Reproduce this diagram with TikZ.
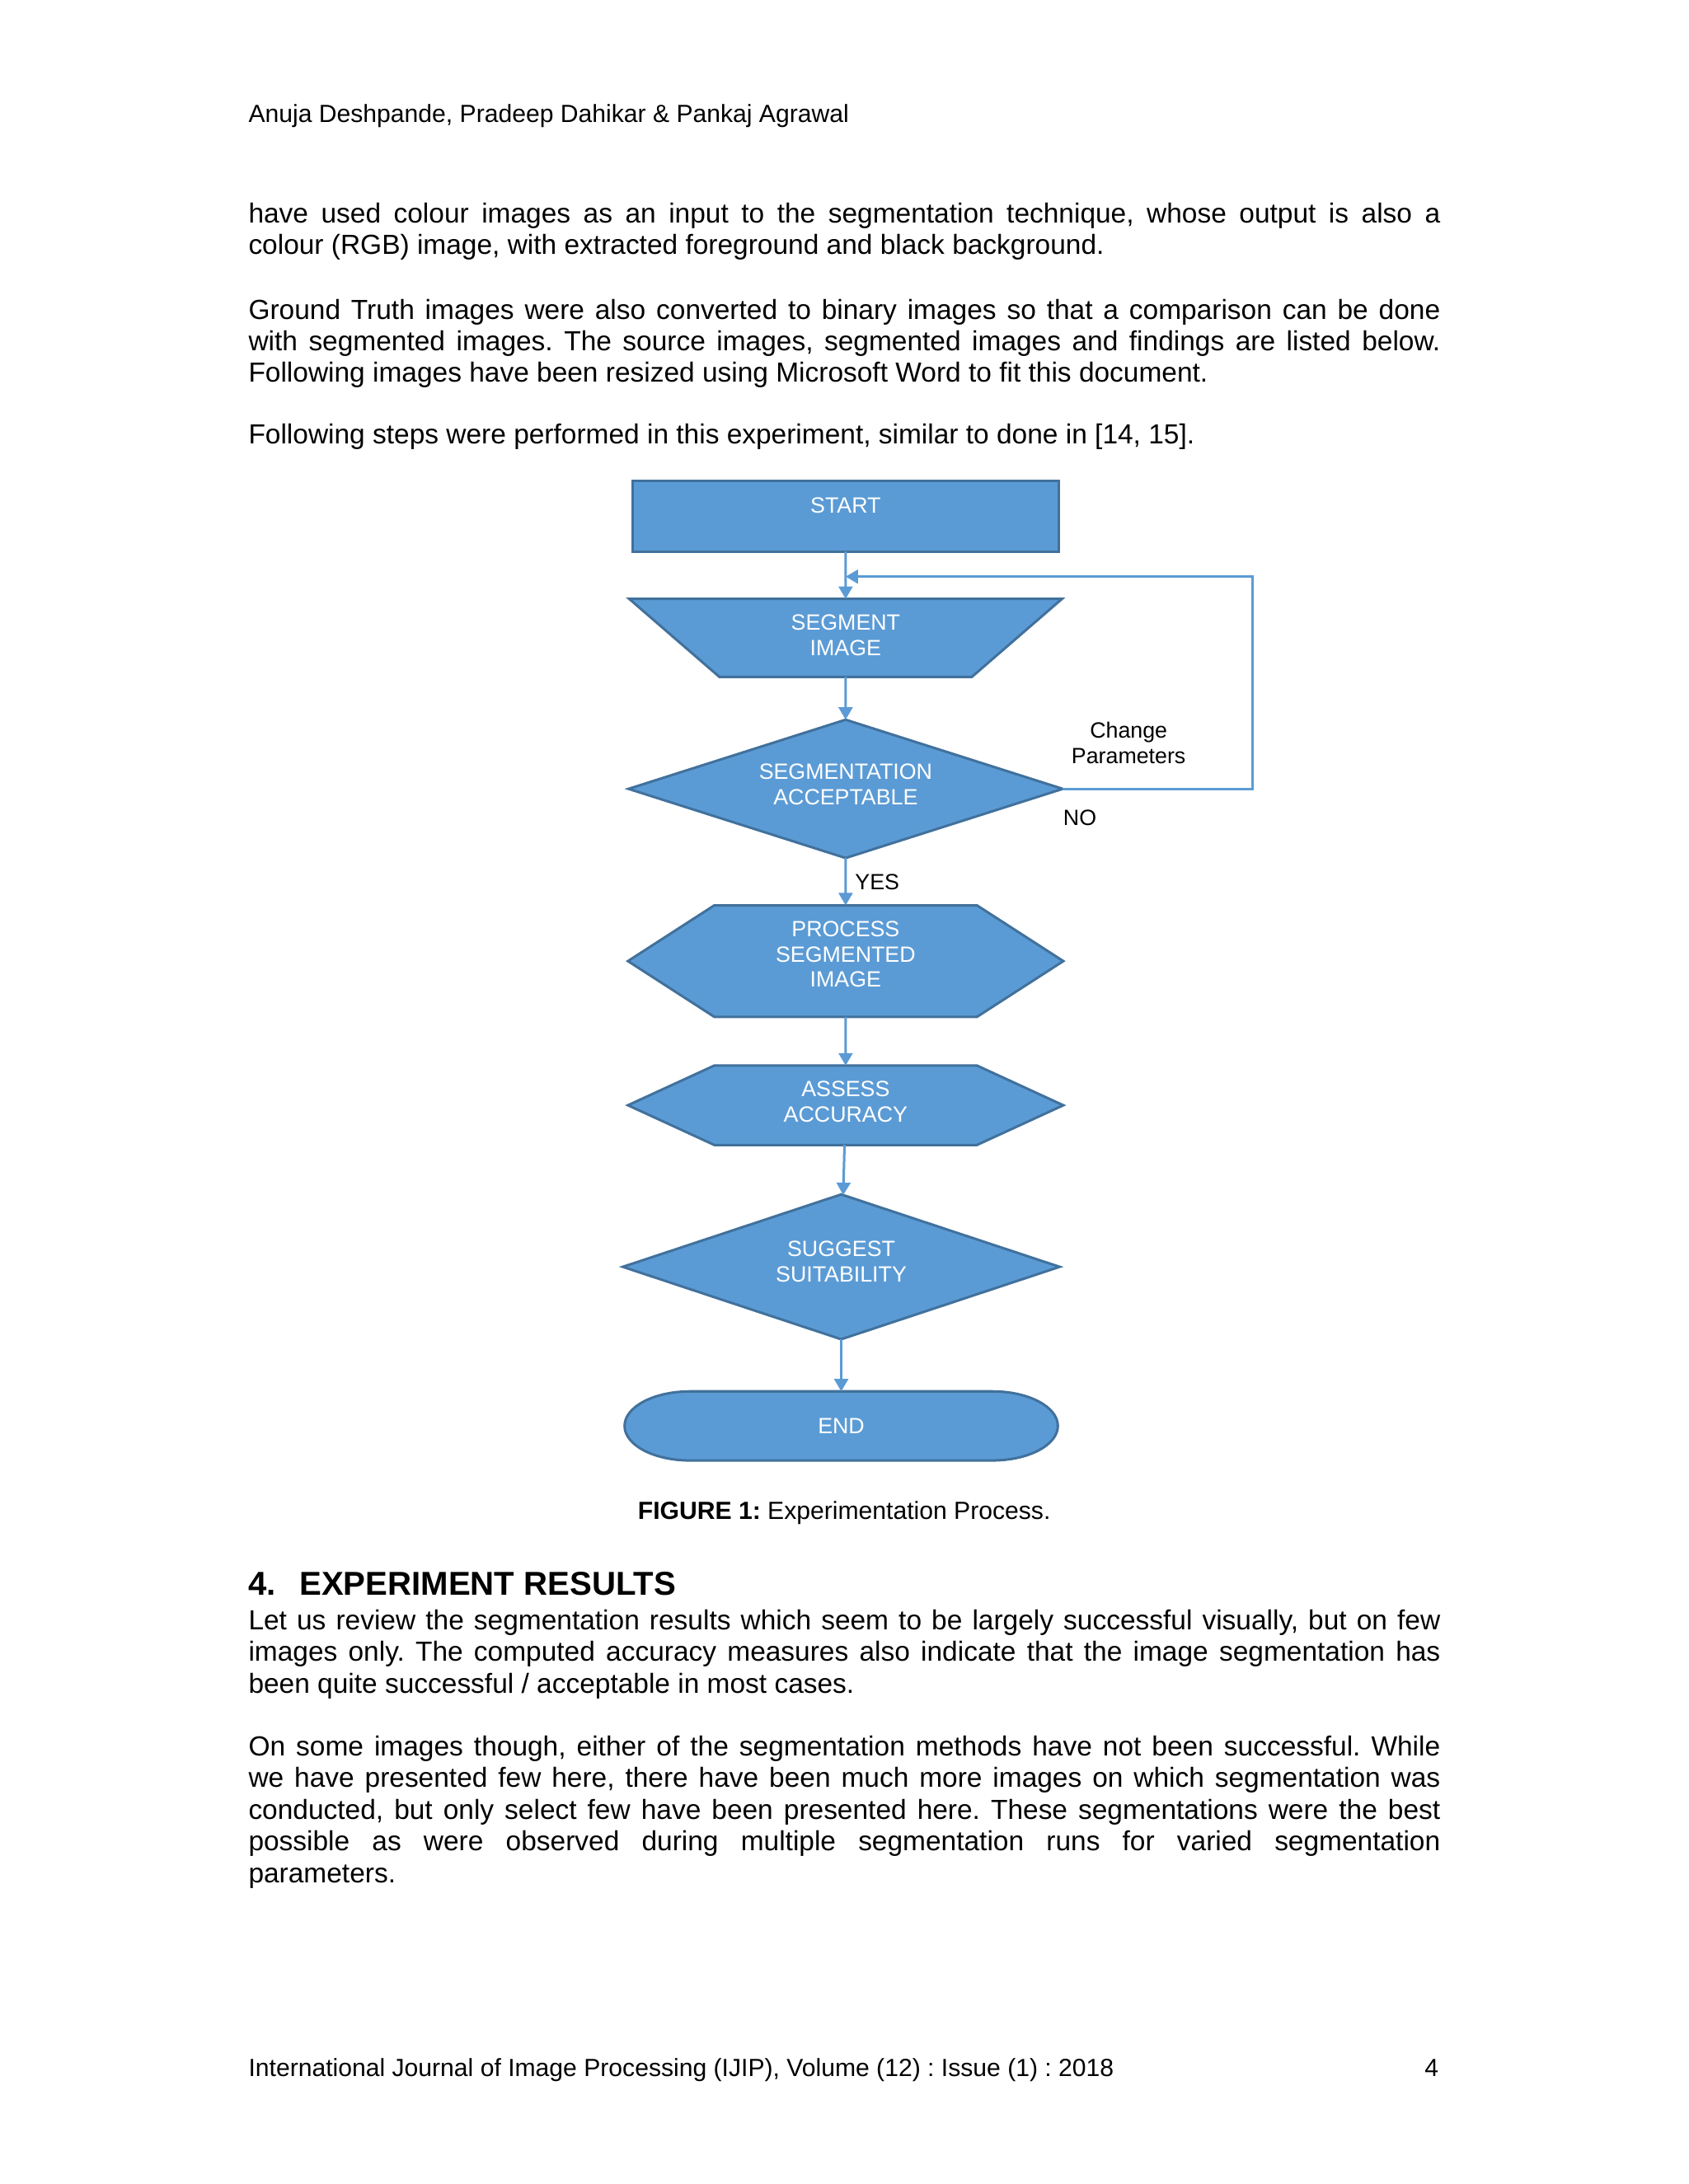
\documentclass[tikz,border=0pt]{standalone}
\usepackage{fontspec}
\setmainfont{Liberation Sans}
\usepackage{xcolor}
\usepackage{tikz}
\usetikzlibrary{positioning,arrows.meta,shapes.geometric,shapes.symbols,backgrounds}
\definecolor{boxfill}{HTML}{5B9BD5}
\definecolor{boxline}{HTML}{41719C}
\setlength{\parindent}{0pt}
\tolerance=10000 \hbadness=10000 \hyphenpenalty=10000
\frenchspacing

\begin{document}
\begin{tikzpicture}[
  x=0.50495pt, y=-0.50495pt,
  flow/.style={draw=boxline, fill=boxfill, line width=0.9pt, inner sep=0pt,
               outer sep=0pt, text=white, align=center,
               font=\fontsize{8}{9.2}\selectfont},
  startbox/.style={flow, rectangle, minimum width=154.26pt,
                   minimum height=25.75pt, text depth=7.5pt},
  iobox/.style={flow, trapezium, shape border rotate=180,
                trapezium left angle=27.2, trapezium right angle=27.2,
                trapezium stretches body, minimum width=156.79pt,
                minimum height=28.28pt, text depth=2pt},
  decision/.style={flow, diamond, aspect=3, minimum width=157.39pt,
                   minimum height=50.14pt, text depth=3.4pt},
  hexbox/.style={flow, signal, signal to=east and west,
                 minimum width=157.8pt},
  term/.style={inner sep=0pt, outer sep=0pt, text=white,
               minimum width=157.04pt, minimum height=25.05pt,
               font=\fontsize{8}{9.2}\selectfont},
  lbl/.style={inner sep=0pt, align=center, font=\fontsize{8}{9.2}\selectfont},
  conn/.style={draw=boxfill, line width=0.9pt},
  para/.style={anchor=base west, inner sep=0pt, text width=432pt,
               align=justify, font=\fontsize{10}{11.5}\selectfont},
  small/.style={inner sep=0pt, font=\fontsize{9}{10.5}\selectfont},
  >={Triangle[length=4.5pt,width=5pt]}
]
  \useasboundingbox (0,0) rectangle (1212,1568);
  \begin{scope}[on background layer]
    \fill[white] (0,0) rectangle (1212,1568);
  \end{scope}

  % page header and text above the figure
  \node[small, anchor=base west] (head) at (178,87.6)
    {Anuja Deshpande, Pradeep Dahikar \& Pankaj Agrawal};
  \node[para] (p1) at (178,159.8)
    {have used colour images as an input to the segmentation technique, whose output is also a\linebreak
     colour (RGB) image, with extracted foreground and black background.};
  \node[para] (p2) at (178,229)
    {Ground Truth images were also converted to binary images so that a comparison can be done\linebreak
     with segmented images. The source images, segmented images and findings are listed below.\linebreak
     Following images have been resized using Microsoft Word to fit this document.};
  \node[para] (p3) at (178,318.5)
    {Following steps were performed in this experiment, similar to done in [14, 15].};

  % flowchart
  \node[startbox] (start) at (607,370.5) {START};
  \node[iobox, below=17.17pt of start] (seg) {SEGMENT\\IMAGE};
  \node[decision, below=15.5pt of seg] (acc) {SEGMENTATION\\ACCEPTABLE};
  \node[hexbox, signal pointer angle=65.7, minimum height=40.4pt, text depth=5pt,
        below=17.17pt of acc] (proc) {PROCESS\\SEGMENTED\\IMAGE};
  \node[hexbox, signal pointer angle=49.4, minimum height=28.78pt, text depth=2.5pt,
        below=17.67pt of proc] (assess) {ASSESS\\ACCURACY};
  \node[decision, minimum width=158.35pt, minimum height=52.51pt, text depth=4pt,
        below=17.93pt of assess, xshift=-1.6pt] (suit) {SUGGEST\\SUITABILITY};
  \node[term, below=18.89pt of suit] (endn) {END};
  \begin{scope}[on background layer]
    \draw[draw=boxline, fill=boxfill, line width=0.9pt]
      ([xshift=23.7pt]endn.north west) -- ([xshift=-23.7pt]endn.north east)
      arc[start angle=90, end angle=-90, x radius=23.7pt, y radius=12.52pt]
      -- ([xshift=23.7pt]endn.south west)
      arc[start angle=270, end angle=90, x radius=23.7pt, y radius=12.52pt] -- cycle;
  \end{scope}
  \coordinate (loopin) at (607,414);

  \draw[conn, ->] (start) -- (seg);
  \draw[conn, ->] (seg) -- (acc);
  \draw[conn, ->] (acc) -- node[lbl, right=3pt] (yes) {YES} (proc);
  \draw[conn, ->] (proc) -- (assess);
  \draw[conn, ->] (assess) -- (suit);
  \draw[conn, ->] (suit) -- (endn);
  \draw[conn, ->] (acc.east) -- ++(136,0) |- (loopin);
  \node[lbl, above right=9pt and 3pt of acc.east] (change) {Change\\Parameters};
  \node[lbl, below right=7.6pt and 0pt of acc.east] (no) {NO};

  \node[small, anchor=base] (caption) at (606,1090.5)
    {\textbf{FIGURE 1:} Experimentation Process.};

  % section text below the figure
  \node[anchor=base west, inner sep=0pt, font=\fontsize{12}{14}\selectfont\bfseries]
    (secno) at (178,1145) {4.};
  \node[anchor=base west, inner sep=0pt, font=\fontsize{12}{14}\selectfont\bfseries]
    (sectitle) at (214.6,1145) {EXPERIMENT RESULTS};
  \node[para] (p4) at (178,1170)
    {Let us review the segmentation results which seem to be largely successful visually, but on few\linebreak
     images only. The computed accuracy measures also indicate that the image segmentation has\linebreak
     been quite successful / acceptable in most cases.};
  \node[para] (p5) at (178,1260.5)
    {On some images though, either of the segmentation methods have not been successful. While\linebreak
     we have presented few here, there have been much more images on which segmentation was\linebreak
     conducted, but only select few have been presented here. These segmentations were the best\linebreak
     possible as were observed during multiple segmentation runs for varied segmentation\linebreak
     parameters.};

  % page footer
  \node[small, anchor=base west] (foot) at (178,1491)
    {International Journal of Image Processing (IJIP), Volume (12) : Issue (1) : 2018};
  \node[small, anchor=base east] (pageno) at (1033,1491) {4};
\end{tikzpicture}
\end{document}
